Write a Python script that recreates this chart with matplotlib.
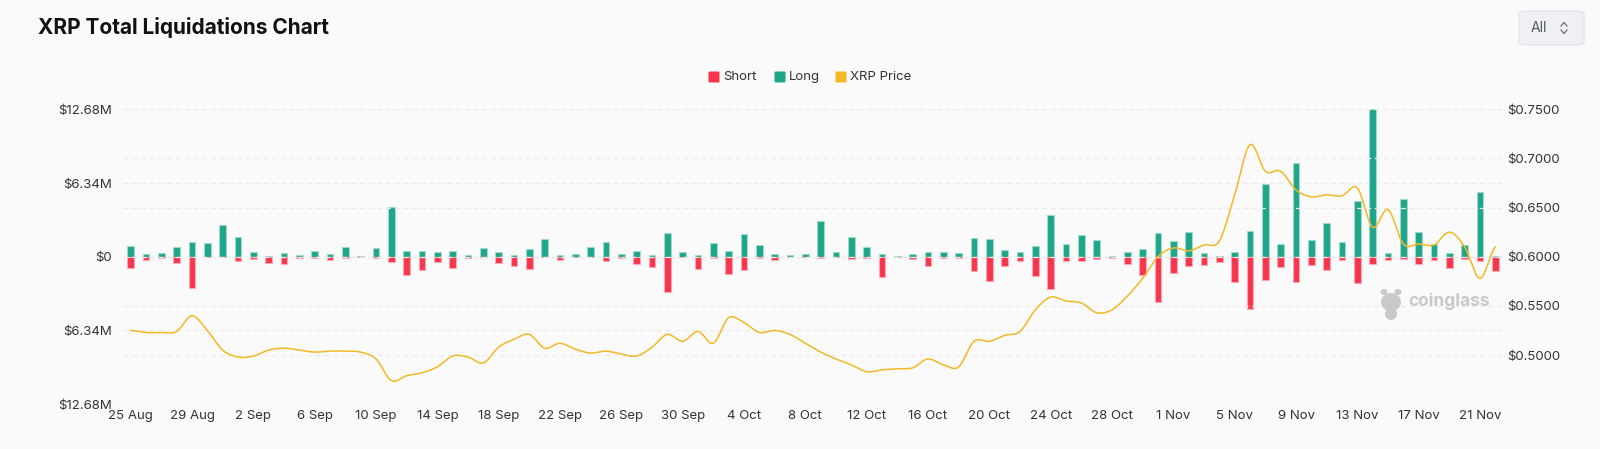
import numpy as np
import pandas as pd
import matplotlib
matplotlib.use("Agg")
import matplotlib.pyplot as plt
from matplotlib.patches import FancyBboxPatch, Ellipse
from matplotlib.lines import Line2D

plt.rcParams['font.family'] = ['Inter', 'DejaVu Sans']

# ---------------- data ----------------
dates = pd.date_range("2024-08-25", "2024-11-22", freq="D")
date_labels = [f"{d.day} {d.strftime('%b')}" for d in dates]

# liquidations in millions USD
long_vals = [0.92, 0.23, 0.29, 0.80, 1.26, 1.15, 2.72, 1.66, 0.37, 0.06,
             0.29, 0.17, 0.52, 0.23, 0.80, 0.05, 0.77, 4.24, 0.50, 0.52,
             0.37, 0.48, 0.11, 0.78, 0.37, 0.18, 0.67, 1.53, 0.17, 0.23,
             0.85, 1.30, 0.23, 0.46, 0.18, 2.06, 0.40, 0.17, 1.15, 0.52,
             1.98, 0.97, 0.26, 0.14, 0.26, 3.10, 0.40, 1.72, 0.80, 0.20,
             0.06, 0.20, 0.37, 0.43, 0.36, 1.58, 1.52, 0.62, 0.43, 0.90,
             3.62, 1.12, 1.86, 1.47, 0.10, 0.44, 0.68, 2.07, 1.38, 2.15,
             0.30, 0.03, 0.43, 2.19, 6.22, 1.09, 8.03, 1.46, 2.87, 1.23,
             4.82, 12.67, 0.32, 4.93, 2.09, 1.09, 0.32, 0.97, 5.53, 0.09]
short_vals = [0.97, 0.29, 0.11, 0.52, 2.72, 0.06, 0.06, 0.34, 0.20, 0.57,
              0.60, 0.14, 0.11, 0.29, 0.11, 0.02, 0.11, 0.43, 1.58, 1.18,
              0.42, 1.00, 0.08, 0.05, 0.58, 0.78, 1.06, 0.06, 0.27, 0.02,
              0.03, 0.40, 0.14, 0.60, 0.92, 3.07, 0.05, 1.08, 0.10, 1.50,
              1.18, 0.14, 0.29, 0.02, 0.02, 0.10, 0.04, 0.20, 0.11, 1.75,
              0.02, 0.23, 0.80, 0.08, 0.07, 1.20, 2.08, 0.76, 0.37, 1.68,
              2.75, 0.40, 0.40, 0.17, 0.09, 0.63, 1.53, 3.92, 1.39, 0.80,
              0.69, 0.43, 2.18, 4.47, 2.00, 0.90, 2.21, 0.72, 1.13, 0.26,
              2.24, 0.61, 0.25, 0.18, 0.63, 0.32, 0.96, 0.20, 0.33, 1.23]
price = [0.525, 0.523, 0.523, 0.524, 0.540, 0.525, 0.505, 0.498, 0.499, 0.505,
         0.507, 0.505, 0.503, 0.504, 0.504, 0.503, 0.496, 0.474, 0.479, 0.482,
         0.488, 0.499, 0.498, 0.492, 0.508, 0.516, 0.521, 0.507, 0.512, 0.506,
         0.502, 0.504, 0.501, 0.499, 0.508, 0.521, 0.514, 0.524, 0.512, 0.538,
         0.533, 0.523, 0.525, 0.521, 0.512, 0.503, 0.496, 0.490, 0.483, 0.485,
         0.486, 0.487, 0.496, 0.490, 0.488, 0.514, 0.514, 0.520, 0.524, 0.546,
         0.559, 0.555, 0.553, 0.543, 0.546, 0.560, 0.578, 0.600, 0.609, 0.606,
         0.612, 0.616, 0.663, 0.714, 0.687, 0.687, 0.668, 0.661, 0.663, 0.662,
         0.670, 0.630, 0.648, 0.613, 0.613, 0.612, 0.625, 0.610, 0.578, 0.610]

left_ticks = [-12.68, -6.34, 0, 6.34, 12.68]
left_labels = ["$12.68M", "$6.34M", "$0", "$6.34M", "$12.68M"]
right_ticks = [0.50, 0.55, 0.60, 0.65, 0.70, 0.75]
right_labels = ["$0.5000", "$0.5500", "$0.6000", "$0.6500", "$0.7000", "$0.7500"]

# ---------------- style ----------------
C_LONG = "#1fa68a"
C_SHORT = "#f5364c"
C_PRICE = "#f2b826"
BG = "#fafafa"
GRID = "#ebebeb"
TXT = "#333333"

W, H = 1600, 449
fig = plt.figure(figsize=(W / 100, H / 100), dpi=100, facecolor=BG)

def fx(x):
    return x / W

def fy(y):
    return 1 - y / H

ax_left, ax_right, ax_top, ax_bot = 123, 1503, 109.3, 404.2
ax = fig.add_axes([fx(ax_left), fy(ax_bot), (ax_right - ax_left) / W, (ax_bot - ax_top) / H])
ax.set_facecolor(BG)
x = np.arange(len(dates))

ax.bar(x, long_vals, width=0.45, color=C_LONG, edgecolor="#9fd9cb", linewidth=0.8, zorder=3)
ax.bar(x, [-v for v in short_vals], width=0.45, color=C_SHORT, edgecolor="#f9a9b3", linewidth=0.8, zorder=3)
ax.set_xlim(-0.5, len(dates) - 0.5)
ax.set_ylim(-12.68, 12.68)
ax.set_yticks(left_ticks)
ax.set_yticklabels(left_labels)
ax.set_xticks(x[::4])
ax.set_xticklabels(date_labels[::4])
ax.tick_params(axis="y", length=0, pad=8, labelsize=9.5, labelcolor=TXT)
ax.tick_params(axis="x", length=0, pad=4, labelsize=9.5, labelcolor=TXT)
for s in ax.spines.values():
    s.set_visible(False)
ax.grid(axis="y", color=GRID, linestyle=(0, (4, 3)), linewidth=0.9, zorder=0)

ax2 = ax.twinx()
ax2.set_ylim(0.45, 0.75)
ax2.set_yticks(right_ticks)
ax2.set_yticklabels(right_labels)
ax2.tick_params(axis="y", length=0, pad=3, labelsize=9.5, labelcolor=TXT)
for s in ax2.spines.values():
    s.set_visible(False)
ax2.grid(axis="y", color=GRID, linestyle=(0, (4, 3)), linewidth=0.9, zorder=0)

# smooth rendering of the daily price series (Catmull-Rom)
def catmull_rom(xs, ys, n=16):
    xs = np.asarray(xs, float)
    ys = np.asarray(ys, float)
    px = np.concatenate([[2 * xs[0] - xs[1]], xs, [2 * xs[-1] - xs[-2]]])
    py = np.concatenate([[ys[0]], ys, [ys[-1]]])
    ox, oy = [], []
    t = np.linspace(0, 1, n, endpoint=False)
    for i in range(1, len(px) - 2):
        p0, p1, p2, p3 = py[i - 1], py[i], py[i + 1], py[i + 2]
        q0, q1, q2, q3 = px[i - 1], px[i], px[i + 1], px[i + 2]
        for a, b, c, d, out in ((q0, q1, q2, q3, ox), (p0, p1, p2, p3, oy)):
            out.extend(0.5 * ((2 * b) + (-a + c) * t + (2 * a - 5 * b + 4 * c - d) * t ** 2
                              + (-a + 3 * b - 3 * c + d) * t ** 3))
    ox.append(xs[-1]); oy.append(ys[-1])
    return np.array(ox), np.array(oy)

sx, sy = catmull_rom(x, price)
ax2.plot(sx, sy, color=C_PRICE, linewidth=1.1, zorder=5, solid_capstyle="round")

# ---------------- title, legend, controls ----------------
fig.text(fx(38), fy(27), "XRP Total Liquidations Chart", fontsize=15, fontweight="bold",
         color="#111111", va="center", ha="left")

# "All" selector
btn = FancyBboxPatch((fx(1519), fy(45)), (1584 - 1519) / W, 34 / H,
                     boxstyle="round,pad=0,rounding_size=0.006", transform=fig.transFigure,
                     facecolor="#eff0f4", edgecolor="#e1e2e8", linewidth=0.8)
fig.patches.append(btn)
fig.text(fx(1539), fy(28), "All", fontsize=10, color="#555a66", va="center", ha="center")
# up chevron
fig.lines.append(Line2D([fx(1561), fx(1564), fx(1567)], [fy(26), fy(22.5), fy(26)],
                        transform=fig.transFigure, color="#6b6f7a", linewidth=0.9))
# down chevron
fig.lines.append(Line2D([fx(1561), fx(1564), fx(1567)], [fy(30), fy(33.5), fy(30)],
                        transform=fig.transFigure, color="#6b6f7a", linewidth=0.9))

# legend
legend_items = [("Short", C_SHORT, 714), ("Long", C_LONG, 780), ("XRP Price", C_PRICE, 841)]
for name, col, xpos in legend_items:
    sq = FancyBboxPatch((fx(xpos - 5.5), fy(82.5)), 11 / W, 11 / H,
                        boxstyle="round,pad=0,rounding_size=0.0012", transform=fig.transFigure,
                        facecolor=col, edgecolor="none")
    fig.patches.append(sq)
    fig.text(fx(xpos + 9), fy(77), name, fontsize=9.5, color=TXT, va="center", ha="left")

# watermark
wm = "#c9c9c9"
fig.patches.append(Ellipse((fx(1391), fy(302)), 20 / W, 18 / H, transform=fig.transFigure,
                           facecolor=wm, edgecolor="none"))
fig.patches.append(Ellipse((fx(1391), fy(314)), 12 / W, 12 / H, transform=fig.transFigure,
                           facecolor=wm, edgecolor="none"))
fig.patches.append(Ellipse((fx(1384), fy(292)), 7 / W, 6 / H, transform=fig.transFigure,
                           facecolor=wm, edgecolor="none"))
fig.patches.append(Ellipse((fx(1398), fy(292)), 7 / W, 6 / H, transform=fig.transFigure,
                           facecolor=wm, edgecolor="none"))
fig.text(fx(1408), fy(301), "coinglass", fontsize=12.5, fontweight="bold", color=wm,
         va="center", ha="left")

fig.savefig("out.png", dpi=100, facecolor=BG)
